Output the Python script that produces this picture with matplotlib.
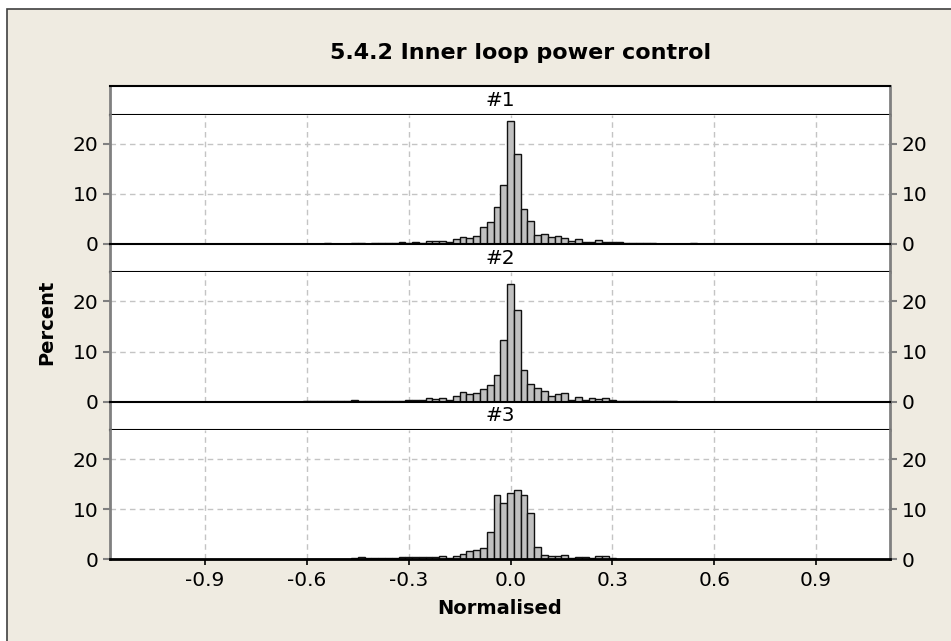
import numpy as np
import matplotlib
matplotlib.use("Agg")
import matplotlib.pyplot as plt
from matplotlib.patches import Rectangle

matplotlib.rcParams.update({'font.family': 'DejaVu Sans', 'font.size': 14.5})

# histogram bins: width 0.02, first bin centred at -0.60
bin_start = -0.60
bin_width = 0.02

pct_1 = [0.05, 0.0, 0.05, 0.1, 0.05, 0.05, 0.05, 0.1, 0.1, 0.05,
         0.1, 0.1, 0.1, 0.15, 0.4, 0.2, 0.4, 0.2, 0.6, 0.6,
         0.6, 0.4, 1.0, 1.4, 1.1, 1.5, 3.3, 4.3, 7.3, 11.8,
         24.5, 18.0, 6.9, 4.5, 1.7, 2.0, 1.3, 1.5, 1.1, 0.5,
         0.9, 0.45, 0.45, 0.7, 0.4, 0.4, 0.3, 0.2, 0.2, 0.1,
         0.1, 0.1, 0.05, 0.05, 0.05, 0.05, 0.05, 0.1, 0.0, 0.0, 0.0]
pct_2 = [0.05, 0.05, 0.05, 0.05, 0.05, 0.05, 0.05, 0.3, 0.1, 0.1,
         0.05, 0.1, 0.1, 0.2, 0.2, 0.4, 0.3, 0.4, 0.7, 0.5,
         0.7, 0.4, 1.1, 1.9, 1.5, 1.8, 2.5, 3.3, 5.4, 12.4,
         23.5, 18.3, 6.3, 3.5, 2.7, 2.1, 1.1, 1.5, 1.8, 0.4,
         1.0, 0.3, 0.8, 0.6, 0.8, 0.25, 0.1, 0.05, 0.1, 0.1,
         0.05, 0.05, 0.05, 0.1, 0.1, 0.0, 0.0, 0.0, 0.0, 0.0, 0.0]
pct_3 = [0.05, 0.05, 0.05, 0.1, 0.05, 0.1, 0.1, 0.2, 0.5, 0.2,
         0.2, 0.2, 0.2, 0.3, 0.4, 0.4, 0.4, 0.4, 0.4, 0.4,
         0.7, 0.3, 0.6, 1.0, 1.6, 1.8, 2.2, 5.4, 12.9, 11.3,
         13.3, 13.8, 12.9, 9.3, 2.4, 0.9, 0.6, 0.7, 0.8, 0.2,
         0.4, 0.4, 0.2, 0.6, 0.6, 0.2, 0.05, 0.05, 0.15, 0.05,
         0.1, 0.05, 0.1, 0.05, 0.05, 0.0, 0.05, 0.0, 0.05, 0.0, 0.0]

panel_names = ["#1", "#2", "#3"]
panel_data = [pct_1, pct_2, pct_3]
x_ticks = [-0.9, -0.6, -0.3, 0.0, 0.3, 0.6, 0.9]
x_ticklabels = ["-0.9", "-0.6", "-0.3", "0.0", "0.3", "0.6", "0.9"]
y_ticks = [0, 10, 20]

W, H = 951, 641
fig = plt.figure(figsize=(W / 100, H / 100), dpi=100, facecolor='white')


def box(left, top, right, bottom):
    return [left / W, 1 - bottom / H, (right - left) / W, (bottom - top) / H]


bg = '#efebe1'
fig.patches.append(Rectangle((7 / W, -0.1), 1.2, 1 - 9 / H + 0.1, transform=fig.transFigure,
                             facecolor=bg, edgecolor='#404040', linewidth=1.2, zorder=-10))

fig.text(521 / W, 1 - 53 / H, "5.4.2 Inner loop power control",
         ha='center', va='center', fontsize=16, fontweight='bold')

left, right = 110, 890
strip_h, panel_h = 28.6, 129.2
top = 86.0
grey_spine = '#808080'

for i, (name, pct) in enumerate(zip(panel_names, panel_data)):
    s_top = top + i * (strip_h + panel_h)
    p_top = s_top + strip_h
    p_bot = p_top + panel_h

    sax = fig.add_axes(box(left, s_top, right, p_top))
    sax.set_facecolor('white')
    sax.set_xticks([])
    sax.set_yticks([])
    for sp in ['top', 'bottom']:
        sax.spines[sp].set_color('black')
        sax.spines[sp].set_linewidth(1.5)
    for sp in ['left', 'right']:
        sax.spines[sp].set_color(grey_spine)
        sax.spines[sp].set_linewidth(2)
    sax.text(0.5, 0.5, name, transform=sax.transAxes, ha='center', va='center', fontsize=14.5)

    ax = fig.add_axes(box(left, p_top, right, p_bot))
    centers = bin_start + bin_width * np.arange(len(pct))
    ax.bar(centers, pct, width=bin_width, color='#c0c0c0', edgecolor='#111111',
           linewidth=1.0, zorder=3)
    ax.set_xlim(-1.18, 1.118)
    ax.set_ylim(0, 25.8)
    ax.set_xticks(x_ticks)
    ax.set_yticks(y_ticks)
    ax.grid(True, color='#c4c4c4', linestyle=(0, (4, 3)), linewidth=1, zorder=0)
    ax.set_axisbelow(True)
    ax.tick_params(axis='y', which='both', left=True, right=True, labelleft=True, labelright=True,
                   length=5, width=1.5, color=grey_spine, pad=3.5, labelsize=14.5)
    ax.spines['top'].set_visible(False)
    ax.spines['bottom'].set_color('black')
    ax.spines['bottom'].set_linewidth(2)
    ax.spines['bottom'].set_zorder(5)
    for sp in ['left', 'right']:
        ax.spines[sp].set_color(grey_spine)
        ax.spines[sp].set_linewidth(2)
    if i == 2:
        ax.set_xticklabels(x_ticklabels)
        ax.tick_params(axis='x', length=4.5, width=1.2, color='black', labelsize=14.5, pad=4)
        ax.set_xlabel("Normalised", fontsize=14, fontweight='bold', labelpad=6.5)
    else:
        ax.tick_params(axis='x', length=0, labelbottom=False)

fig.text(47 / W, 1 - 322 / H, "Percent", rotation=90, ha='center', va='center',
         fontsize=14, fontweight='bold')

fig.savefig("out.png", dpi=100, facecolor=fig.get_facecolor())
